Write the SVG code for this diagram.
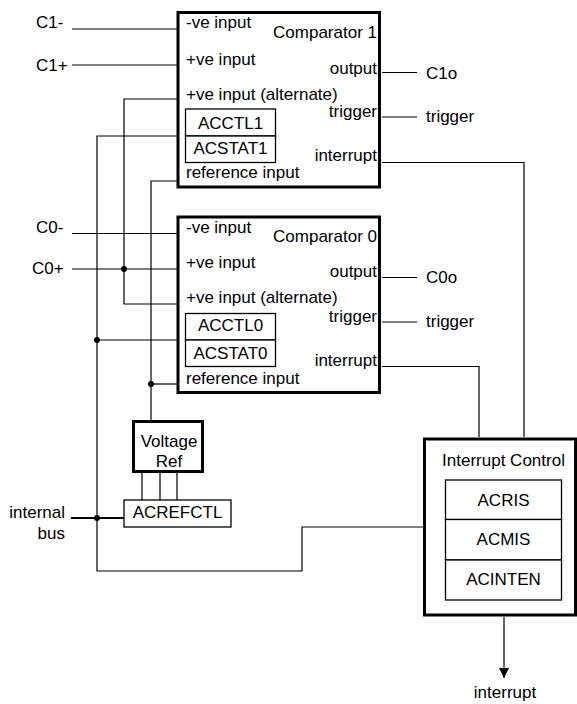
<svg xmlns="http://www.w3.org/2000/svg" width="577" height="704" viewBox="0 0 577 704">
<style>
text{font-family:"Liberation Sans",Arial,sans-serif;font-size:17px;fill:#000}
.e{text-anchor:end}.m{text-anchor:middle}
.thick{fill:#fff;stroke:#000;stroke-width:3}
.reg{fill:#fff;stroke:#000;stroke-width:1.3}
.w{fill:none;stroke:#000;stroke-width:1.2}
.dot{fill:#000}
</style>
<defs>
<marker id="arr" markerWidth="10" markerHeight="10" refX="10" refY="5" orient="auto" markerUnits="userSpaceOnUse">
<path d="M0,0 L10,5 L0,10 z" fill="#000"/>
</marker>
</defs>
<g id="connectors">
<path class="w" d="M72,29 H177"/>
<path class="w" d="M72,65 H177"/>
<path class="w" d="M177,99 H124 V304 H177"/>
<path class="w" d="M177,136 H97 V571 H302 V527 H423"/>
<path class="w" d="M177,181 H151 V420"/>
<path class="w" d="M72,233.5 H177"/>
<path class="w" d="M72,269 H177"/>
<path class="w" d="M97,340 H177"/>
<path class="w" d="M151,384 H177"/>
<path class="w" d="M382,72.5 H417"/>
<path class="w" d="M382,117 H417"/>
<path class="w" d="M382,162.5 H524 V437"/>
<path class="w" d="M382,277.5 H417"/>
<path class="w" d="M382,322 H417"/>
<path class="w" d="M382,366.5 H479 V437"/>
<path class="w" d="M142,473 V500 M160,473 V500 M177,473 V500"/>
<path fill="none" stroke="#000" stroke-width="2" d="M71,518 H124"/>
<path class="w" d="M504,617 V678" marker-end="url(#arr)"/>
<circle class="dot" cx="124" cy="269" r="3"/>
<circle class="dot" cx="97" cy="340" r="3"/>
<circle class="dot" cx="151" cy="384" r="3"/>
<circle class="dot" cx="97" cy="518" r="3"/>
</g>
<g id="labels">
<text x="36" y="28">C1-</text>
<text x="36" y="71">C1+</text>
<text x="36" y="233">C0-</text>
<text x="32" y="274">C0+</text>
<text x="426" y="79">C1o</text>
<text x="426" y="122">trigger</text>
<text x="426" y="283">C0o</text>
<text x="426" y="327">trigger</text>
<text class="e" x="65" y="518">internal</text>
<text class="e" x="65" y="539">bus</text>
<text class="m" x="505" y="698">interrupt</text>
</g>
<g id="comparator1">
<rect class="thick" x="178" y="12.5" width="201.5" height="174.5"/>
<text x="186" y="28">-ve input</text>
<text x="186" y="65">+ve input</text>
<text x="186" y="100">+ve input (alternate)</text>
<text x="186" y="178">reference input</text>
<text class="e" x="377" y="38">Comparator 1</text>
<text class="e" x="377" y="74">output</text>
<text class="e" x="377" y="117">trigger</text>
<text class="e" x="377" y="161">interrupt</text>
<g id="acctl1"><rect class="reg" x="185.5" y="109" width="90" height="27"/><text class="m" x="230.5" y="129">ACCTL1</text></g>
<g id="acstat1"><rect class="reg" x="185.5" y="136" width="90" height="26.5"/><text class="m" x="230.5" y="154">ACSTAT1</text></g>
</g>
<g id="comparator0">
<rect class="thick" x="178" y="217" width="201.5" height="175.5"/>
<text x="186" y="233">-ve input</text>
<text x="186" y="268">+ve input</text>
<text x="186" y="303">+ve input (alternate)</text>
<text x="186" y="384">reference input</text>
<text class="e" x="377" y="242">Comparator 0</text>
<text class="e" x="377" y="277">output</text>
<text class="e" x="377" y="322">trigger</text>
<text class="e" x="377" y="366">interrupt</text>
<g id="acctl0"><rect class="reg" x="185.5" y="313.5" width="90" height="26.5"/><text class="m" x="230.5" y="331">ACCTL0</text></g>
<g id="acstat0"><rect class="reg" x="185.5" y="340" width="90" height="26.5"/><text class="m" x="230.5" y="359">ACSTAT0</text></g>
</g>
<g id="voltageref">
<rect class="thick" x="133.5" y="421.5" width="69" height="50"/>
<text class="m" x="169" y="447">Voltage</text>
<text class="m" x="169" y="467">Ref</text>
</g>
<g id="acrefctl">
<rect class="reg" x="124" y="500" width="107" height="27"/>
<text class="m" x="177.5" y="518">ACREFCTL</text>
</g>
<g id="interruptcontrol">
<rect class="thick" x="424.5" y="439" width="151" height="176"/>
<text class="m" x="503.5" y="466">Interrupt Control</text>
<g id="acris"><rect class="reg" x="445.5" y="480" width="116" height="39.5"/><text class="m" x="503.5" y="506">ACRIS</text></g>
<g id="acmis"><rect class="reg" x="445.5" y="519.5" width="116" height="40.5"/><text class="m" x="503.5" y="545">ACMIS</text></g>
<g id="acinten"><rect class="reg" x="445.5" y="560" width="116" height="40"/><text class="m" x="503.5" y="585">ACINTEN</text></g>
</g>
</svg>
